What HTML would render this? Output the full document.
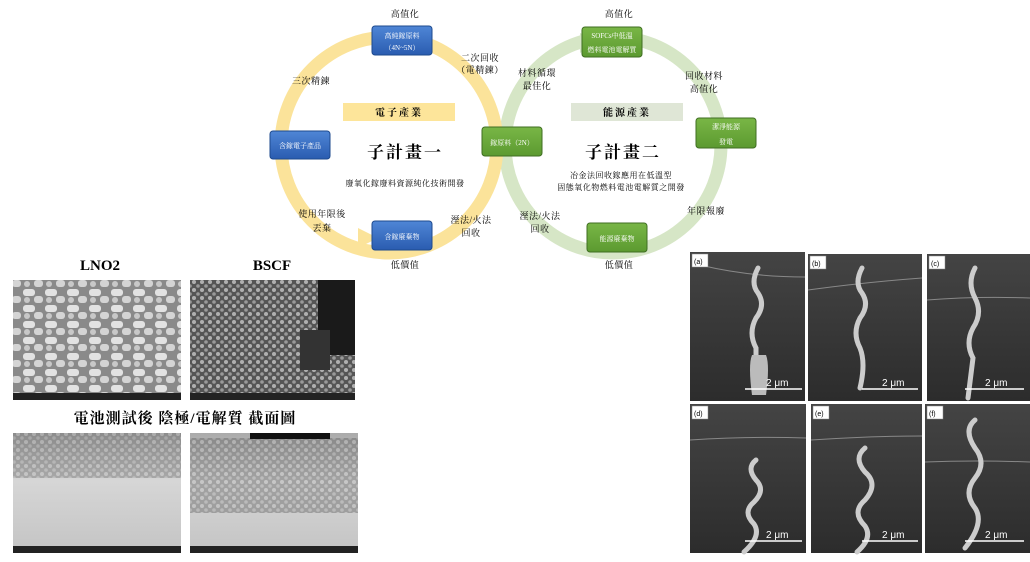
<!DOCTYPE html>
<html><head><meta charset="utf-8"><style>
body{margin:0;width:1030px;height:557px;background:#fff;overflow:hidden;font-family:"Liberation Serif","Noto Serif CJK SC","Noto Sans CJK TC",serif}
</style></head><body>
<svg width="1030" height="557" xmlns="http://www.w3.org/2000/svg" font-family="Liberation Serif, Noto Serif CJK SC, Noto Sans CJK TC, serif">
<defs>
<linearGradient id="bl" x1="0" y1="0" x2="0" y2="1"><stop offset="0" stop-color="#4f86d6"/><stop offset="1" stop-color="#2a5cb0"/></linearGradient>
<linearGradient id="gr" x1="0" y1="0" x2="0" y2="1"><stop offset="0" stop-color="#79b646"/><stop offset="1" stop-color="#5c9a30"/></linearGradient>
<radialGradient id="sem1"><stop offset="0" stop-color="#d0d0d0"/><stop offset="1" stop-color="#a0a0a0"/></radialGradient>
<radialGradient id="sem2"><stop offset="0" stop-color="#999"/><stop offset="1" stop-color="#555"/></radialGradient>
<linearGradient id="sem3" x1="0" y1="0" x2="0" y2="1"><stop offset="0" stop-color="#aaa"/><stop offset="0.4" stop-color="#d6d6d6"/><stop offset="1" stop-color="#c4c4c4"/></linearGradient>
<linearGradient id="dk" x1="0" y1="0" x2="0" y2="1"><stop offset="0" stop-color="#444"/><stop offset="1" stop-color="#2c2c2c"/></linearGradient>
<pattern id="pp" width="22" height="16" patternUnits="userSpaceOnUse"><rect width="22" height="16" fill="#8a8a8a"/><rect x="1" y="1" width="12" height="7" rx="3" fill="#e2e2e2"/><rect x="12" y="8" width="9" height="7" rx="3" fill="#d4d4d4"/><circle cx="5" cy="12" r="3" fill="#c8c8c8"/></pattern>
<pattern id="pb" width="8" height="8" patternUnits="userSpaceOnUse"><rect width="8" height="8" fill="#555"/><circle cx="2" cy="2" r="2" fill="#b0b0b0"/><circle cx="6" cy="6" r="1.8" fill="#999"/></pattern>
</defs>
<circle cx="613" cy="145" r="108" fill="none" stroke="#d6e6c6" stroke-width="13"/>
<circle cx="389" cy="145" r="108" fill="none" stroke="#fbe39a" stroke-width="13"/>
<polygon points="580,33 600,42 580,53" fill="#d6e6c6"/>
<polygon points="358,228 378,238 358,248" fill="#fbe39a"/>
<rect x="343" y="103" width="112" height="18" fill="#fde59a"/>
<text x="399" y="116" font-size="10" text-anchor="middle" font-weight="bold" letter-spacing="2">電子產業</text>
<rect x="571" y="103" width="112" height="18" fill="#dfe6d6"/>
<text x="627" y="116" font-size="10" text-anchor="middle" font-weight="bold" letter-spacing="2">能源產業</text>
<text x="405" y="158" font-size="17" text-anchor="middle" font-weight="bold" letter-spacing="2">子計畫一</text>
<text x="623" y="158" font-size="17" text-anchor="middle" font-weight="bold" letter-spacing="2">子計畫二</text>
<text x="405" y="186" font-size="8" text-anchor="middle" letter-spacing="0.5">廢氧化鎵廢料資源純化技術開發</text>
<text x="621" y="178" font-size="8" text-anchor="middle" letter-spacing="0.5">冶金法回收鎵應用在低溫型</text>
<text x="621" y="190" font-size="8" text-anchor="middle" letter-spacing="0.5">固態氧化物燃料電池電解質之開發</text>
<rect x="372" y="26" width="60" height="29" rx="3" fill="url(#bl)" stroke="#1e4a8e"/>
<text x="402" y="38" font-size="7" fill="#fff" text-anchor="middle">高純鎵原料</text>
<text x="402" y="50" font-size="7" fill="#fff" text-anchor="middle">（4N~5N）</text>
<rect x="270" y="131" width="60" height="28" rx="3" fill="url(#bl)" stroke="#1e4a8e"/>
<text x="300" y="148" font-size="7" fill="#fff" text-anchor="middle">含鎵電子產品</text>
<rect x="372" y="221" width="60" height="29" rx="3" fill="url(#bl)" stroke="#1e4a8e"/>
<text x="402" y="239" font-size="7" fill="#fff" text-anchor="middle">含鎵廢棄物</text>
<rect x="482" y="127" width="60" height="29" rx="3" fill="url(#gr)" stroke="#3f6e22"/>
<text x="512" y="145" font-size="7" fill="#fff" text-anchor="middle">鎵原料（2N）</text>
<rect x="582" y="27" width="60" height="30" rx="3" fill="url(#gr)" stroke="#3f6e22"/>
<text x="612" y="38" font-size="7" fill="#fff" text-anchor="middle">SOFCs中低溫</text>
<text x="612" y="52" font-size="7" fill="#fff" text-anchor="middle">燃料電池電解質</text>
<rect x="696" y="118" width="60" height="30" rx="3" fill="url(#gr)" stroke="#3f6e22"/>
<text x="726" y="129" font-size="7" fill="#fff" text-anchor="middle">潔淨能源</text>
<text x="726" y="144" font-size="7" fill="#fff" text-anchor="middle">發電</text>
<rect x="587" y="223" width="60" height="29" rx="3" fill="url(#gr)" stroke="#3f6e22"/>
<text x="617" y="241" font-size="7" fill="#fff" text-anchor="middle">能源廢棄物</text>
<g font-size="9" text-anchor="middle" letter-spacing="0.5">
<text x="405" y="17">高值化</text>
<text x="619" y="17">高值化</text>
<text x="480" y="61">二次回收</text><text x="480" y="73">（電精鍊）</text>
<text x="311" y="84">三次精鍊</text>
<text x="537" y="76">材料循環</text><text x="537" y="89">最佳化</text>
<text x="704" y="79">回收材料</text><text x="704" y="92">高值化</text>
<text x="322" y="217">使用年限後</text><text x="322" y="231">丟棄</text>
<text x="471" y="223">溼法/火法</text><text x="471" y="236">回收</text>
<text x="540" y="219">溼法/火法</text><text x="540" y="232">回收</text>
<text x="706" y="214">年限報廢</text>
<text x="405" y="268">低價值</text>
<text x="619" y="268">低價值</text>
</g>
<text x="100" y="270" font-size="15" font-weight="bold" text-anchor="middle">LNO2</text>
<text x="272" y="270" font-size="15" font-weight="bold" text-anchor="middle">BSCF</text>
<rect x="13" y="280" width="168" height="120" fill="url(#pp)"/>
<rect x="13" y="393" width="168" height="7" fill="#222"/>
<rect x="190" y="280" width="165" height="120" fill="url(#pb)"/>
<rect x="318" y="280" width="37" height="75" fill="#1a1a1a"/>
<rect x="300" y="330" width="30" height="40" fill="#333"/>
<rect x="190" y="393" width="165" height="7" fill="#222"/>
<text x="185" y="423" font-size="15" font-weight="bold" text-anchor="middle" letter-spacing="1">電池測試後 陰極/電解質 截面圖</text>
<rect x="13" y="433" width="168" height="120" fill="url(#sem3)"/>
<rect x="13" y="433" width="168" height="45" fill="url(#pb)" opacity="0.35"/>
<rect x="13" y="546" width="168" height="7" fill="#222"/>
<rect x="190" y="433" width="168" height="120" fill="url(#sem3)"/>
<rect x="190" y="438" width="168" height="75" fill="url(#pb)" opacity="0.4"/>
<rect x="250" y="433" width="80" height="6" fill="#111"/>
<rect x="190" y="546" width="168" height="7" fill="#222"/>
<g>
<rect x="690" y="252" width="115" height="149" fill="url(#dk)"/>
<rect x="808" y="254" width="114" height="147" fill="url(#dk)"/>
<rect x="927" y="254" width="103" height="147" fill="url(#dk)"/>
<rect x="690" y="404" width="116" height="149" fill="url(#dk)"/>
<rect x="811" y="404" width="111" height="149" fill="url(#dk)"/>
<rect x="925" y="404" width="105" height="149" fill="url(#dk)"/>
<g fill="none" stroke="#888" stroke-width="1">
<path d="M700,265 q50,12 105,12"/><path d="M808,290 q60,-8 114,-12"/><path d="M927,300 q50,-4 103,-2"/>
<path d="M690,440 q60,-4 116,-2"/><path d="M811,440 q60,-4 111,-4"/><path d="M925,462 q50,-2 105,0"/>
</g>
<g fill="none" stroke="#ccc" stroke-width="5" stroke-linecap="round">
<path d="M758,268 q-8,15 0,25 q8,12 -2,25 q-8,15 0,30 l0,40"/>
<path d="M862,268 q-8,15 0,25 q8,12 -2,25 q-8,15 0,30 q6,15 0,40"/>
<path d="M975,268 q-8,15 0,30 q8,15 -2,30 q-8,15 0,30 l-5,40"/>
<path d="M756,460 q-10,8 0,20 q10,10 -2,22 q-12,10 0,22 q8,12 -10,28"/>
<path d="M865,448 q-12,10 0,24 q14,12 0,28 q-14,12 0,26 q8,12 -8,26"/>
<path d="M975,420 q-12,10 0,28 q12,15 0,30 q-12,15 0,30 q10,15 -10,40"/>
</g>
<path d="M752,395 q-4,-30 0,-40 l14,0 q4,10 0,40z" fill="#bbb"/>
<g stroke="#fff" stroke-width="1.5">
<line x1="745" y1="389" x2="802" y2="389"/><line x1="862" y1="389" x2="918" y2="389"/><line x1="965" y1="389" x2="1024" y2="389"/>
<line x1="745" y1="541" x2="802" y2="541"/><line x1="862" y1="541" x2="918" y2="541"/><line x1="965" y1="541" x2="1024" y2="541"/>
</g>
<g fill="#fff" font-size="10" font-family="Liberation Sans, sans-serif">
<text x="766" y="386">2 μm</text><text x="882" y="386">2 μm</text><text x="985" y="386">2 μm</text>
<text x="766" y="538">2 μm</text><text x="882" y="538">2 μm</text><text x="985" y="538">2 μm</text>
</g>
<g fill="#fff" stroke="#888" stroke-width="0.5">
<rect x="692" y="254" width="16" height="13"/><rect x="810" y="256" width="16" height="13"/><rect x="929" y="256" width="16" height="13"/>
<rect x="692" y="406" width="16" height="13"/><rect x="813" y="406" width="16" height="13"/><rect x="927" y="406" width="16" height="13"/>
</g>
<g font-size="7" font-family="Liberation Sans, sans-serif">
<text x="694" y="264">(a)</text><text x="812" y="266">(b)</text><text x="931" y="266">(c)</text>
<text x="694" y="416">(d)</text><text x="815" y="416">(e)</text><text x="929" y="416">(f)</text>
</g>
</g>
</svg>
</body></html>
